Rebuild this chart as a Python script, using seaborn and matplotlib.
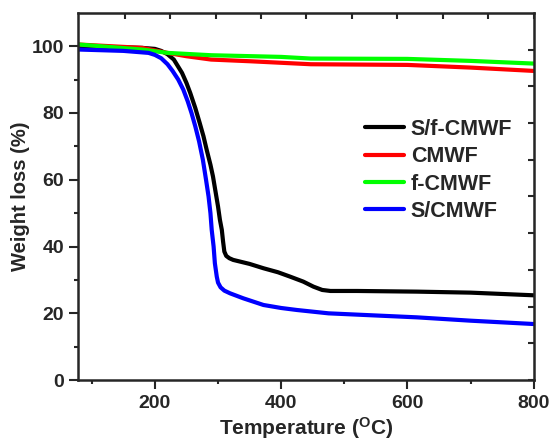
import numpy as np
import pandas as pd
import matplotlib
matplotlib.use("Agg")
import matplotlib.pyplot as plt
import seaborn as sns

# ---- data ----
series_names = ["S/f-CMWF", "CMWF", "f-CMWF", "S/CMWF"]
series_colors = ["#000000", "#ff0000", "#00ff00", "#0000ff"]

t_sf = [80, 120, 180, 200, 210, 220, 230, 243, 250, 256, 264, 271, 277, 282, 288, 292,
        296, 300, 303, 306, 308, 310, 313, 318, 324, 350, 372, 395, 414, 435, 451, 465,
        478, 520, 615, 700, 800]
w_sf = [100.0, 99.8, 99.5, 99.2, 98.6, 97.6, 96.0, 92.0, 89.0, 86.0, 81.5, 77.0, 73.0, 69.0,
        64.5, 61.0, 56.5, 52.0, 48.0, 45.0, 41.5, 38.5, 37.2, 36.5, 36.0, 34.8, 33.5, 32.3,
        31.0, 29.5, 28.0, 27.0, 26.7, 26.7, 26.5, 26.2, 25.4]

t_c = [80, 180, 220, 250, 289, 350, 447, 600, 700, 800]
w_c = [100.5, 99.5, 98.0, 97.0, 96.0, 95.5, 94.6, 94.4, 93.6, 92.6]

t_fc = [80, 180, 220, 289, 400, 447, 600, 700, 800]
w_fc = [100.5, 99.0, 98.0, 97.3, 96.8, 96.3, 96.2, 95.6, 94.8]

t_s = [80, 150, 190, 200, 210, 220, 228, 237, 245, 252, 258, 264, 270, 276, 281, 285, 288,
       290, 293, 295, 298, 300, 304, 310, 319, 340, 372, 400, 425, 475, 615, 700, 800]
w_s = [99.0, 98.6, 98.0, 97.4, 96.4, 94.6, 92.6, 90.0, 87.0, 83.5, 80.0, 76.0, 71.5, 66.0,
       60.0, 55.0, 50.0, 45.0, 40.0, 35.0, 31.0, 29.2, 27.8, 26.8, 26.0, 24.5, 22.5, 21.6,
       21.0, 20.0, 18.8, 17.8, 16.8]

x_major = [200, 400, 600, 800]
y_major = [0, 20, 40, 60, 80, 100]

frames = []
for name, t, w in zip(series_names, [t_sf, t_c, t_fc, t_s], [w_sf, w_c, w_fc, w_s]):
    frames.append(pd.DataFrame({"Temperature": t, "Weight": w, "Sample": name}))
df = pd.concat(frames, ignore_index=True)

sns.set_style("ticks")
plt.rcParams["font.family"] = ["Liberation Sans", "DejaVu Sans"]
plt.rcParams["font.weight"] = "bold"
plt.rcParams["mathtext.fontset"] = "custom"
plt.rcParams["mathtext.rm"] = "Liberation Sans:bold"
plt.rcParams["mathtext.bf"] = "Liberation Sans:bold"
plt.rcParams["mathtext.default"] = "bf"

fig = plt.figure(figsize=(5.56, 4.42), dpi=100)
ax = fig.add_axes([0.140, 0.140, 0.820, 0.831])

sns.lineplot(data=df, x="Temperature", y="Weight", hue="Sample",
             hue_order=series_names, palette=series_colors,
             linewidth=3.0, sort=False, estimator=None, ax=ax)

ax.set_xlim(78, 800)
ax.set_ylim(0, 110)
ax.set_xticks(x_major)
ax.set_xticks([100, 300, 500, 700], minor=True)
ax.set_yticks(y_major)
ax.set_yticks([10, 30, 50, 70, 90], minor=True)
ax.tick_params(axis="both", which="major", direction="out", length=6.5, width=1.5,
               labelsize=14)
ax.tick_params(axis="x", which="major", pad=4.5)
ax.tick_params(axis="y", which="major", pad=3.5)
ax.tick_params(axis="both", which="minor", direction="out", length=3, width=1.5)
for lab in ax.get_xticklabels() + ax.get_yticklabels():
    lab.set_fontweight("bold")

for sp in ax.spines.values():
    sp.set_linewidth(1.8)
    sp.set_visible(True)

# top / right inward ticks (as in the original plot frame)
top = ax.secondary_xaxis("top")
top.set_xticks(np.linspace(152, 800, 10))
top.tick_params(direction="in", length=4, width=1.5, labeltop=False)
right = ax.secondary_yaxis("right")
right.set_yticks(np.linspace(0, 99, 10))
right.tick_params(direction="in", length=4, width=1.5, labelright=False)

ax.set_xlabel("Temperature ($^{O}$C)", fontsize=15, fontweight="bold", labelpad=2)
ax.set_ylabel("Weight loss (%)", fontsize=14.5, fontweight="bold", labelpad=1)

leg = ax.legend(loc="upper left", bbox_to_anchor=(0.629, 0.712), frameon=False,
                borderpad=0, borderaxespad=0,
                handlelength=1.85, handletextpad=0.3, labelspacing=0.3,
                prop={"weight": "bold", "size": 15.5})
for line in leg.get_lines():
    line.set_linewidth(3.0)

fig.savefig("out.png", dpi=100)
